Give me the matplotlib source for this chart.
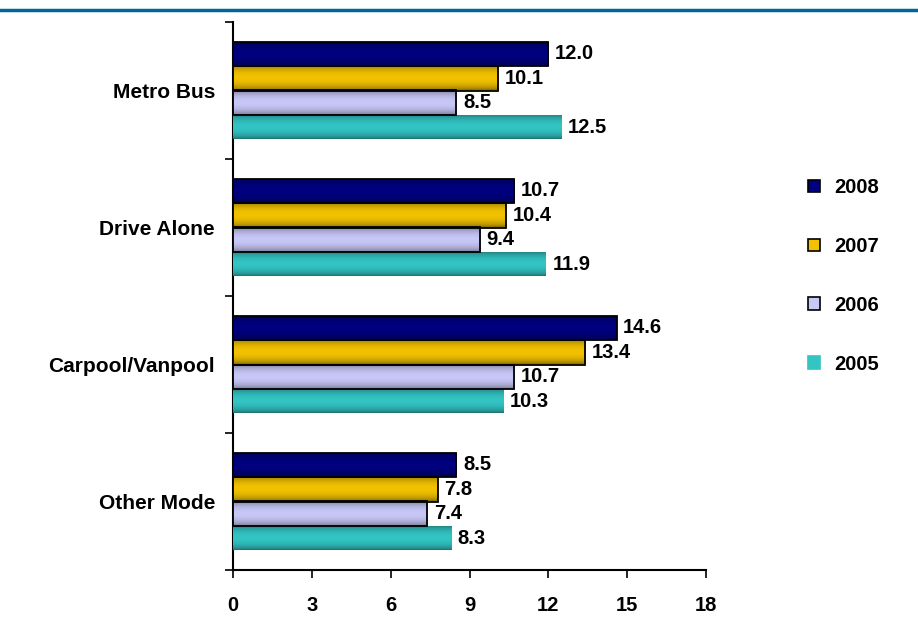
import numpy as np
import matplotlib
matplotlib.use("Agg")
import matplotlib.pyplot as plt
from matplotlib.colors import to_rgb
from matplotlib.patches import Patch
from matplotlib.lines import Line2D

plt.rcParams["font.family"] = ["Liberation Sans", "DejaVu Sans"]
plt.rcParams["font.weight"] = "bold"

categories = ["Metro Bus", "Drive Alone", "Carpool/Vanpool", "Other Mode"]
years = ["2008", "2007", "2006", "2005"]
values = {
    "2008": [12.0, 10.7, 14.6, 8.5],
    "2007": [10.1, 10.4, 13.4, 7.8],
    "2006": [8.5, 9.4, 10.7, 7.4],
    "2005": [12.5, 11.9, 10.3, 8.3],
}
xticks = [0, 3, 6, 9, 12, 15, 18]

COLORS = {"2008": "#000080", "2007": "#f2c200", "2006": "#c8c8f8", "2005": "#33c4c4"}
EDGES = {"2008": "black", "2007": "black", "2006": "black", "2005": "none"}
FS = 14.5


def shaded(color, n=64):
    # cylinder-like vertical shading: darker at top and bottom edges
    t = np.linspace(0, 1, n)
    f = 0.55 + 0.45 * np.sin(np.pi * t) ** 0.6
    rgb = np.array(to_rgb(color))
    return (f[:, None] * rgb[None, :])[:, None, :]


fig = plt.figure(figsize=(9.18, 6.27), dpi=100)
ax = fig.add_axes([233 / 918, 1 - 570 / 627, (706 - 233) / 918, (570 - 22) / 627])

n = len(categories)
bh = 0.178
for gi, cat in enumerate(categories):
    center = n - 1 - gi
    for k, yr in enumerate(years):
        y = center + (1.5 - k) * bh
        v = values[yr][gi]
        bar = ax.barh(y, v, height=bh, color=COLORS[yr], edgecolor="none", zorder=3)[0]
        img = ax.imshow(shaded(COLORS[yr]), extent=[0, v, y - bh / 2, y + bh / 2],
                        aspect="auto", zorder=3.5, interpolation="bilinear")
        img.set_clip_path(bar)
        if EDGES[yr] != "none":
            ax.barh(y, v, height=bh, color="none", edgecolor=EDGES[yr],
                    linewidth=1.3, zorder=4)
        ax.text(v + 0.25, y, f"{v:.1f}", va="center", ha="left",
                fontsize=FS, fontweight="bold")

ax.set_xlim(0, 18)
ax.set_ylim(-0.5, n - 0.5)
ax.set_xticks(xticks)
ax.set_xticklabels([str(t) for t in xticks], fontsize=FS, fontweight="bold")
ax.set_yticks([n - 1 - i for i in range(n)])
ax.set_yticklabels(categories, fontsize=FS + 0.5, fontweight="bold")
ax.set_yticks(np.arange(-0.5, n, 1.0), minor=True)
ax.tick_params(axis="y", which="major", length=0, pad=13)
ax.tick_params(axis="y", which="minor", length=6, width=1.2, direction="out")
ax.tick_params(axis="x", which="major", length=6, width=1.2, direction="out", pad=13)
for s in ["top", "right"]:
    ax.spines[s].set_visible(False)
for s in ["left", "bottom"]:
    ax.spines[s].set_linewidth(1.5)

handles = [Patch(facecolor=COLORS[y], edgecolor="black" if EDGES[y] != "none" else COLORS[y],
                 linewidth=1.2) for y in years]
leg = fig.legend(handles, years, loc="upper left", bbox_to_anchor=(790 / 918, 1 - 160 / 627),
                 frameon=False, handlelength=0.6, handleheight=0.6,
                 handletextpad=0.7, labelspacing=1.98, prop={"weight": "bold", "size": FS})

fig.add_artist(Line2D([0, 1], [1 - 10 / 627, 1 - 10 / 627], color="#006699", lw=2.5,
                      transform=fig.transFigure))

fig.savefig("out.png", dpi=100)
